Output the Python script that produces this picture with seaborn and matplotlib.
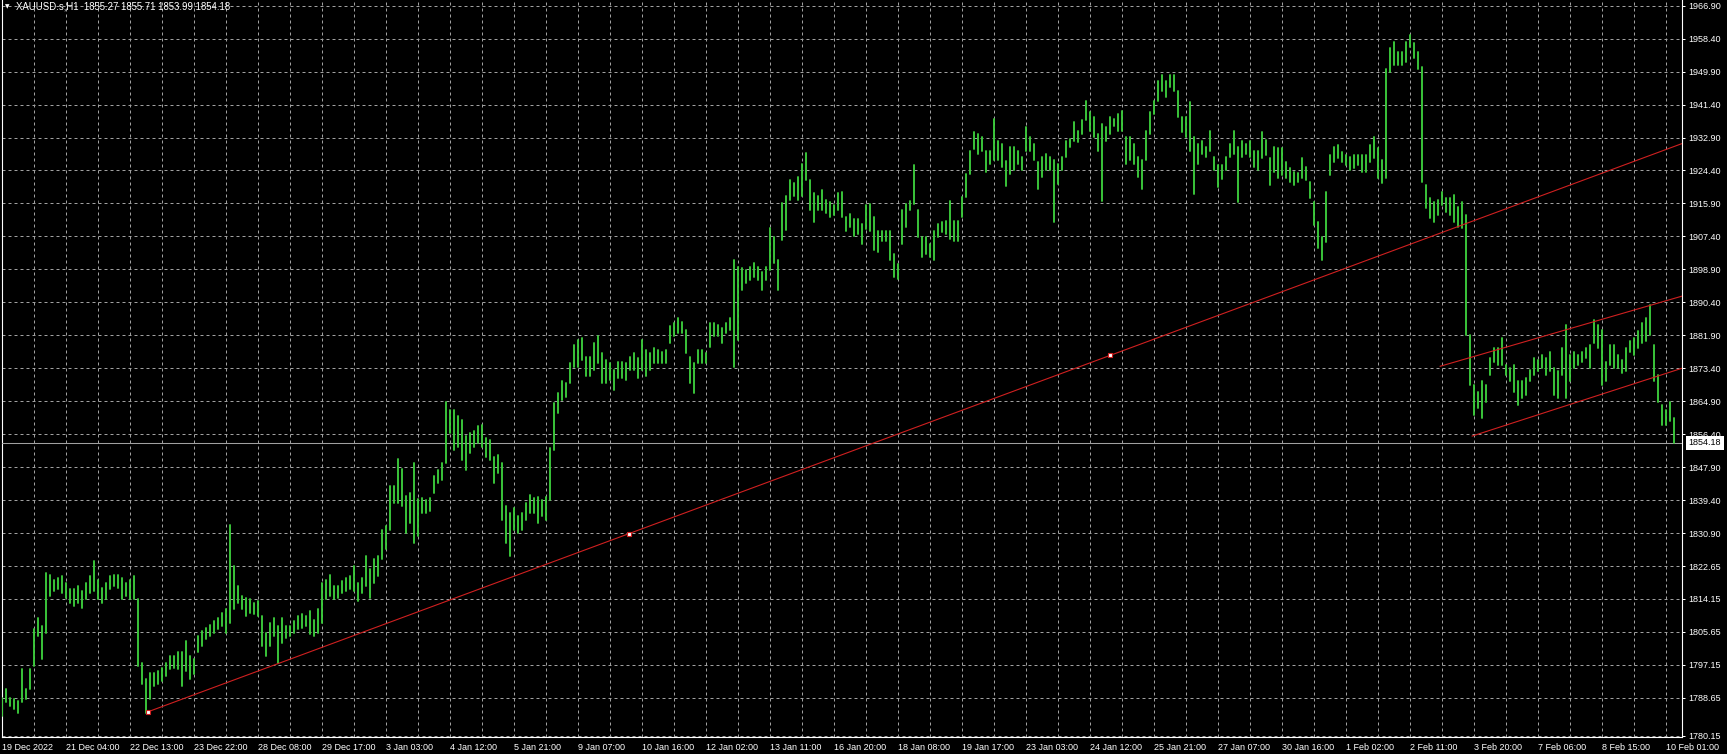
import numpy as np
import pandas as pd
import matplotlib
matplotlib.use("Agg")
import matplotlib.pyplot as plt
import matplotlib.transforms as mtransforms
import seaborn as sns

# ---------------- data ----------------
symbol_title = "XAUUSD.s,H1  1855.27 1855.71 1853.99 1854.18"
last_price = 1854.18

date_labels = ["19 Dec 2022", "21 Dec 04:00", "22 Dec 13:00", "23 Dec 22:00", "28 Dec 08:00",
               "29 Dec 17:00", "3 Jan 03:00", "4 Jan 12:00", "5 Jan 21:00", "9 Jan 07:00",
               "10 Jan 16:00", "12 Jan 02:00", "13 Jan 11:00", "16 Jan 20:00", "18 Jan 08:00",
               "19 Jan 17:00", "23 Jan 03:00", "24 Jan 12:00", "25 Jan 21:00", "27 Jan 07:00",
               "30 Jan 16:00", "1 Feb 02:00", "2 Feb 11:00", "3 Feb 20:00", "7 Feb 06:00",
               "8 Feb 15:00", "10 Feb 01:00"]

price_tick_labels = ["1966.90", "1958.40", "1949.90", "1941.40", "1932.90", "1924.40", "1915.90",
                     "1907.40", "1898.90", "1890.40", "1881.90", "1873.40", "1864.90", "1856.40",
                     "1847.90", "1839.40", "1830.90", "1822.65", "1814.15", "1805.65", "1797.15",
                     "1788.65", "1780.15"]

bar_high = [
    1788.4, 1790.6, 1788.4, 1788.0, 1787.6, 1795.8, 1790.6, 1795.8, 1806.1, 1809.1,
    1806.9, 1820.7, 1820.2, 1818.9, 1819.4, 1819.8, 1818.1, 1816.4, 1816.4, 1817.2,
    1815.9, 1818.1, 1819.8, 1823.7, 1818.9, 1816.8, 1818.1, 1819.8, 1820.2, 1820.2,
    1819.4, 1818.1, 1818.9, 1819.8, 1813.8, 1797.5, 1793.2, 1794.9, 1794.9, 1795.3,
    1796.2, 1797.5, 1799.2, 1799.2, 1800.1, 1800.1, 1803.1, 1799.2, 1798.3, 1804.3,
    1805.6, 1806.5, 1807.3, 1808.2, 1809.1, 1810.3, 1811.2, 1833.1, 1822.4, 1817.2,
    1814.6, 1814.2, 1813.8, 1812.9, 1813.4, 1809.5, 1805.2, 1807.8, 1809.1, 1806.9,
    1809.1, 1806.9, 1806.9, 1808.2, 1809.5, 1809.9, 1809.5, 1810.8, 1808.6, 1811.2,
    1818.1, 1818.9, 1820.2, 1817.2, 1817.2, 1818.5, 1819.4, 1819.8, 1822.4, 1818.1,
    1819.4, 1824.9, 1821.5, 1824.1, 1824.9, 1831.8, 1832.7, 1843.0, 1843.0, 1849.9,
    1847.3, 1840.4, 1841.3, 1849.0, 1839.6,
    1839.9, 1839.5, 1839.9, 1845.5, 1847.2, 1848.9, 1864.8, 1862.7, 1862.7, 1861.0,
    1860.1, 1855.8, 1856.7, 1857.1, 1858.4, 1858.8, 1855.4, 1854.9, 1850.6, 1851.1,
    1848.9, 1837.8, 1836.0, 1837.3, 1835.2, 1836.0, 1838.6, 1840.8, 1839.9, 1840.3,
    1839.5, 1840.3, 1852.8, 1864.4, 1867.0, 1870.0, 1869.6, 1874.7, 1879.4, 1880.7,
    1881.1, 1876.4, 1876.4, 1879.9, 1881.6, 1877.3, 1875.6, 1874.7, 1873.0, 1875.1,
    1875.1, 1874.7, 1876.4, 1877.3, 1876.0, 1880.7, 1878.1, 1877.3, 1878.6, 1878.1,
    1877.7, 1878.1, 1884.2, 1885.0, 1886.3, 1885.4, 1883.3, 1876.4, 1874.7, 1878.1,
    1878.1, 1877.3, 1885.0, 1885.0, 1884.6, 1883.7, 1885.0, 1886.3, 1901.3, 1899.6,
    1899.2, 1898.8, 1899.6, 1900.5, 1899.6, 1898.3, 1899.6, 1909.5, 1907.3, 1901.3,
    1915.9, 1917.7, 1921.9, 1921.1, 1922.8, 1926.2, 1928.8, 1921.9, 1918.5, 1917.7,
    1919.4, 1916.8, 1916.4, 1915.5, 1918.5,
    1918.8, 1912.3, 1913.2, 1911.9, 1911.9, 1910.6, 1915.4, 1915.8, 1912.3, 1908.9,
    1908.9, 1908.9, 1908.9, 1902.9, 1900.3, 1914.1, 1915.8, 1916.6, 1925.7, 1914.1,
    1907.2, 1907.2, 1905.5, 1908.9, 1910.6, 1911.1, 1911.5, 1916.6, 1911.5, 1911.5,
    1917.5, 1923.5, 1929.5, 1934.3, 1933.8, 1933.0, 1929.5, 1929.5, 1937.7, 1932.1,
    1931.3, 1926.9, 1930.4, 1930.4, 1929.5, 1927.8, 1935.6, 1933.0, 1931.3, 1926.5,
    1927.8, 1928.7, 1927.8, 1927.0, 1926.1, 1927.8, 1932.1, 1932.5, 1936.8, 1934.7,
    1937.3, 1942.4, 1939.4, 1938.1, 1933.8, 1936.4, 1935.6, 1938.1, 1937.7, 1939.0,
    1939.8, 1933.0, 1933.0, 1931.3, 1927.8, 1927.0, 1934.7, 1939.4, 1942.4, 1947.6,
    1948.9, 1947.6, 1948.9, 1948.9, 1945.0, 1938.1, 1938.1, 1942.0, 1933.0, 1931.3,
    1932.1, 1930.4, 1934.7, 1927.8, 1925.7, 1925.7, 1927.8, 1931.3, 1934.7, 1930.4,
    1932.1, 1931.3, 1932.1, 1929.5, 1929.5,
    1934.4, 1932.3, 1927.5, 1930.5, 1930.1, 1930.1, 1926.7, 1925.0, 1924.1, 1923.7,
    1927.5, 1925.4, 1921.5, 1916.4, 1911.2, 1907.3, 1918.9, 1928.4, 1930.5, 1931.0,
    1929.2, 1928.4, 1928.0, 1928.4, 1928.4, 1928.4, 1928.4, 1931.0, 1933.1, 1930.1,
    1927.1, 1950.7, 1955.9, 1957.6, 1955.0, 1955.0, 1957.6, 1959.3, 1957.2, 1955.0,
    1951.0, 1920.7, 1917.2, 1916.4, 1916.8, 1918.9, 1917.2, 1917.2, 1918.1, 1915.1,
    1916.4, 1912.9, 1882.0, 1869.1, 1867.4, 1870.0, 1869.1, 1876.0, 1878.6, 1878.6,
    1881.1, 1874.3, 1873.4, 1874.3, 1870.0, 1870.0, 1870.8, 1873.0, 1876.0, 1875.6,
    1876.9, 1876.0, 1877.7, 1873.4, 1872.6, 1878.6, 1884.6, 1876.9, 1877.7, 1876.9,
    1877.7, 1878.6, 1879.4, 1885.9, 1884.6, 1883.3, 1875.1, 1879.4, 1879.4, 1876.9,
    1875.6, 1878.6, 1880.3, 1881.1, 1882.9, 1885.0, 1886.3, 1889.7, 1879.4, 1871.7,
    1864.0, 1862.7, 1864.8, 1860.5,
]

bar_low = [
    1783.7, 1787.2, 1786.3, 1785.4, 1784.6, 1787.2, 1788.0, 1790.6, 1796.6, 1804.3,
    1798.3, 1805.2, 1814.6, 1815.9, 1816.4, 1815.5, 1814.2, 1812.9, 1812.1, 1812.9,
    1811.6, 1813.8, 1815.5, 1815.9, 1813.8, 1812.9, 1813.8, 1816.4, 1817.2, 1816.8,
    1813.8, 1814.6, 1813.8, 1813.8, 1796.6, 1791.9, 1784.6, 1788.0, 1791.5, 1791.9,
    1792.7, 1794.0, 1795.8, 1796.2, 1795.8, 1791.5, 1795.3, 1793.2, 1794.5, 1800.1,
    1801.8, 1803.5, 1804.3, 1805.2, 1806.1, 1806.9, 1805.2, 1807.8, 1811.2, 1812.9,
    1811.2, 1809.5, 1810.3, 1809.9, 1809.5, 1801.8, 1799.2, 1801.8, 1804.3, 1797.5,
    1802.6, 1803.9, 1804.3, 1805.2, 1806.1, 1806.5, 1806.9, 1804.8, 1804.3, 1805.2,
    1807.8, 1813.8, 1814.6, 1813.8, 1814.2, 1815.5, 1815.9, 1816.4, 1815.9, 1813.4,
    1815.5, 1817.2, 1814.2, 1818.1, 1819.8, 1824.1, 1826.7, 1831.8, 1838.7, 1838.7,
    1837.8, 1831.0, 1833.6, 1828.4, 1830.1,
    1836.0, 1836.0, 1836.5, 1841.2, 1843.8, 1844.6, 1849.0, 1856.7, 1852.4, 1853.2,
    1849.8, 1847.2, 1851.5, 1853.2, 1854.1, 1853.2, 1850.6, 1849.8, 1843.8, 1846.3,
    1834.3, 1828.3, 1824.9, 1831.8, 1830.9, 1831.8, 1834.3, 1836.0, 1836.0, 1833.5,
    1835.2, 1834.3, 1839.5, 1852.4, 1861.8, 1865.3, 1866.1, 1869.6, 1873.8, 1873.8,
    1875.6, 1871.3, 1871.3, 1873.0, 1874.7, 1869.6, 1869.6, 1870.4, 1867.8, 1870.8,
    1870.8, 1870.4, 1873.0, 1873.0, 1870.8, 1873.0, 1871.3, 1873.0, 1874.7, 1874.7,
    1874.7, 1874.7, 1879.9, 1881.6, 1882.4, 1882.4, 1877.3, 1869.6, 1867.0, 1874.7,
    1874.7, 1874.7, 1879.0, 1881.6, 1881.6, 1879.9, 1882.4, 1883.3, 1873.8, 1880.7,
    1893.6, 1895.3, 1896.2, 1897.0, 1896.2, 1893.6, 1896.2, 1898.8, 1900.5, 1893.6,
    1906.5, 1909.1, 1916.8, 1917.7, 1916.8, 1917.7, 1921.9, 1914.2, 1911.2, 1914.2,
    1914.2, 1913.4, 1912.5, 1912.9, 1914.2,
    1912.3, 1908.9, 1909.8, 1907.6, 1908.1, 1905.5, 1909.3, 1908.9, 1903.8, 1903.3,
    1906.3, 1906.3, 1901.2, 1896.9, 1896.5, 1905.5, 1909.8, 1914.1, 1915.8, 1907.2,
    1902.0, 1902.9, 1902.0, 1901.2, 1907.2, 1908.5, 1908.1, 1906.8, 1906.3, 1906.3,
    1912.3, 1917.5, 1923.5, 1930.0, 1928.7, 1929.5, 1924.0, 1926.1, 1927.0, 1927.0,
    1925.2, 1920.5, 1923.5, 1924.4, 1926.1, 1924.4, 1929.5, 1929.5, 1927.0, 1919.7,
    1922.7, 1924.4, 1924.4, 1911.1, 1920.9, 1924.4, 1927.8, 1930.4, 1932.1, 1931.7,
    1933.8, 1937.3, 1934.7, 1933.0, 1929.5, 1916.6, 1932.1, 1933.8, 1936.0, 1934.7,
    1934.7, 1926.1, 1927.0, 1926.1, 1922.7, 1919.7, 1927.0, 1933.8, 1939.0, 1942.4,
    1945.0, 1943.3, 1945.9, 1945.0, 1938.1, 1934.3, 1933.0, 1929.5, 1918.4, 1926.1,
    1928.7, 1927.8, 1929.5, 1924.4, 1920.1, 1922.2, 1924.4, 1927.8, 1928.7, 1916.2,
    1927.8, 1928.7, 1927.8, 1925.2, 1924.4,
    1927.5, 1928.4, 1920.7, 1924.1, 1922.4, 1923.2, 1922.4, 1921.5, 1920.7, 1921.5,
    1922.4, 1922.0, 1917.2, 1910.3, 1904.3, 1901.3, 1906.0, 1923.2, 1926.7, 1927.5,
    1926.7, 1925.8, 1924.5, 1925.0, 1925.8, 1924.1, 1924.1, 1926.7, 1927.5, 1922.4,
    1921.1, 1922.5, 1949.9, 1951.6, 1951.6, 1951.6, 1952.4, 1956.3, 1953.3, 1950.7,
    1921.5, 1914.6, 1912.1, 1911.2, 1912.9, 1915.5, 1913.8, 1912.9, 1911.2, 1909.9,
    1909.5, 1882.0, 1869.1, 1861.4, 1863.1, 1860.5, 1864.8, 1871.7, 1875.1, 1874.3,
    1874.3, 1871.7, 1870.0, 1867.4, 1864.0, 1865.7, 1866.5, 1870.0, 1871.7, 1872.6,
    1873.4, 1871.7, 1872.6, 1866.5, 1865.7, 1871.7, 1865.7, 1870.0, 1873.4, 1874.3,
    1875.1, 1876.0, 1873.4, 1879.8, 1878.6, 1869.1, 1870.0, 1874.3, 1873.4, 1873.4,
    1872.1, 1872.6, 1877.7, 1876.9, 1878.6, 1879.8, 1880.3, 1882.0, 1870.0, 1864.8,
    1858.8, 1858.8, 1859.7, 1854.1,
]

# trend line anchors (bar index, price): start, middle handle, end
trend_i = [36.5, 156.75, 277.0]
trend_p = [1784.8, 1830.75, 1876.7]
# short channel lines (start, right edge)
chan_up_i = [359.5, 420.0]
chan_up_p = [1873.9, 1892.0]
chan_lo_i = [367.5, 420.0]
chan_lo_p = [1855.9, 1873.4]

# ---------------- styling ----------------
W, H = 1727, 754
sns.set_theme(style="dark", rc={"axes.facecolor": "black", "figure.facecolor": "black",
                                "savefig.facecolor": "black"})
plt.rcParams["font.family"] = ["Liberation Sans", "DejaVu Sans"]

GREEN = "#3ccc3c"
RED = "#cf2020"
GRID = "#a0a0a0"
FS = 6.5

fig = plt.figure(figsize=(W / 100, H / 100), dpi=100)
fig.patch.set_facecolor("black")
ax = fig.add_axes([2 / W, 17 / H, 1680 / W, 737 / H])
ax.set_facecolor("black")

n = len(bar_high)
XMAX = 420.0
ax.set_xlim(0, XMAX)
ax.set_ylim(1778.3, 1968.37)

# grid
major_x = np.arange(0, 16 * len(date_labels), 16)
minor_x = np.arange(8, XMAX, 16)
ax.set_xticks(major_x)
ax.set_xticks(minor_x, minor=True)
ax.set_xticklabels(date_labels)
ytick_pos = [1966.9 - 8.5 * j for j in range(22)] + [1778.65]
ax.set_yticks(ytick_pos)
ax.set_yticklabels(price_tick_labels)
ax.yaxis.tick_right()
ax.grid(True, which="both", axis="x", color=GRID, linewidth=0.72, linestyle=(0, (3, 3)))
ax.grid(True, which="major", axis="y", color=GRID, linewidth=0.72, linestyle=(0, (3, 3)))
ax.set_axisbelow(True)

ax.tick_params(axis="x", which="major", direction="out", length=3, width=0.72,
               color="white", labelcolor="white", labelsize=FS, pad=1.0)
ax.tick_params(axis="x", which="minor", length=0)
ax.tick_params(axis="y", which="major", direction="out", length=2.5, width=0.72,
               color="white", labelcolor="white", labelsize=FS, pad=2.0,
               right=True, left=False, labelright=True, labelleft=False)
for lbl in ax.get_xticklabels():
    lbl.set_ha("left")
for s in ["left", "right", "bottom"]:
    ax.spines[s].set_visible(True)
    ax.spines[s].set_color("white")
    ax.spines[s].set_linewidth(0.8)
ax.spines["top"].set_visible(False)

# bars (high-low) through seaborn
idx = np.arange(n)
bars = pd.DataFrame({
    "bar": np.repeat(idx, 2),
    "x": np.repeat(idx, 2).astype(float),
    "price": np.column_stack([bar_low, bar_high]).ravel(),
})
sns.lineplot(data=bars, x="x", y="price", units="bar", estimator=None, sort=False,
             color=GREEN, linewidth=1.35, ax=ax, zorder=3, legend=False)

# current price line
ax.axhline(last_price, color="#a0a0a0", linewidth=0.75, zorder=2.6)

# trend line as a ray to the right edge
slope = (trend_p[2] - trend_p[0]) / (trend_i[2] - trend_i[0])
tl = pd.DataFrame({"x": [trend_i[0], XMAX],
                   "y": [trend_p[0], trend_p[0] + slope * (XMAX - trend_i[0])]})
sns.lineplot(data=tl, x="x", y="y", color=RED, linewidth=0.8, ax=ax, zorder=4)
for xi, yi in [(chan_up_i, chan_up_p), (chan_lo_i, chan_lo_p)]:
    sns.lineplot(x=xi, y=yi, color=RED, linewidth=0.8, ax=ax, zorder=4)
ax.plot(trend_i, trend_p, linestyle="none", marker="s", markersize=3.3,
        markerfacecolor="white", markeredgecolor=RED, markeredgewidth=0.8, zorder=5)
ax.set_xlabel("")
ax.set_ylabel("")

# last price box on the price scale
trans = mtransforms.offset_copy(
    mtransforms.blended_transform_factory(ax.transAxes, ax.transData), fig=fig, x=4.8, y=0, units="points")
ax.text(1.0, last_price, f"{last_price:.2f}", transform=trans, color="black", fontsize=FS,
        va="center", ha="left", clip_on=False, zorder=6,
        bbox=dict(boxstyle="square,pad=0.3", facecolor="white", edgecolor="none"))

# title
fig.text(16.5 / W, 1 - 9.6 / H, symbol_title, color="white", fontsize=6.9, va="baseline", ha="left")
fig.text(5.0 / W, 1 - 8.3 / H, "\u25bc", color="white", fontsize=4.2, va="baseline", ha="left",
         family="DejaVu Sans")

fig.savefig("out.png", dpi=100, facecolor="black")
